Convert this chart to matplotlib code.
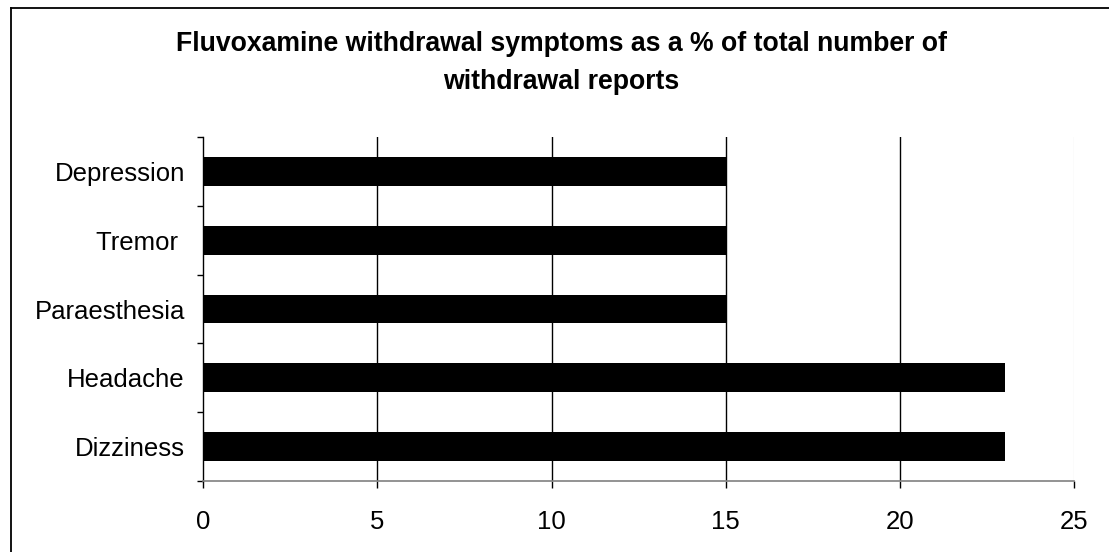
import matplotlib
matplotlib.use("Agg")
import matplotlib.pyplot as plt
from matplotlib.lines import Line2D

categories = ["Dizziness", "Headache", "Paraesthesia", "Tremor ", "Depression"]
values = [23, 23, 15, 15, 15]
x_ticks = [0, 5, 10, 15, 20, 25]

plt.rcParams["font.family"] = ["Liberation Sans", "DejaVu Sans"]

fig = plt.figure(figsize=(11.09, 5.52), dpi=100)
ax = fig.add_axes([0.1830, 0.1286, 0.7858, 0.6232])

ypos = list(range(len(categories)))
ax.barh(ypos, values, height=0.42, color="black", zorder=3)

ax.set_xlim(0, 25)
ax.set_ylim(-0.5, len(categories) - 0.5)
ax.set_xticks(x_ticks)
ax.set_xticklabels([str(t) for t in x_ticks], fontsize=18.5)
ax.set_yticks(ypos)
ax.set_yticklabels(categories, fontsize=18.5)
ax.set_yticks([i - 0.5 for i in range(len(categories) + 1)], minor=True)

ax.tick_params(axis="y", which="major", length=0, pad=13)
ax.tick_params(axis="y", which="minor", length=4.5, width=1, color="black", direction="out")
ax.tick_params(axis="x", which="major", length=5, width=1, color="black", direction="out", pad=16)

# vertical gridlines, the last one is nearly invisible
for t in x_ticks[1:]:
    c = "#eeeeee" if t == 25 else "black"
    ax.axvline(t, color=c, linewidth=1, zorder=1)

for s in ["top", "right"]:
    ax.spines[s].set_visible(False)
ax.spines["bottom"].set_color("#808080")
ax.spines["bottom"].set_linewidth(1.2)
ax.spines["left"].set_color("black")
ax.spines["left"].set_linewidth(1)

fig.text(561 / 1109, 1 - 63 / 552,
         "Fluvoxamine withdrawal symptoms as a % of total number of\nwithdrawal reports",
         ha="center", va="center", fontsize=19.2, fontweight="bold", linespacing=1.57)

# figure frame (only left and top are visible in the original)
fig.add_artist(Line2D([11 / 1109, 11 / 1109], [0, 1 - 8 / 552], transform=fig.transFigure,
                      color="black", linewidth=1.3))
fig.add_artist(Line2D([11 / 1109, 1], [1 - 8 / 552, 1 - 8 / 552], transform=fig.transFigure,
                      color="black", linewidth=1.3))

fig.savefig("out.png", dpi=100)
